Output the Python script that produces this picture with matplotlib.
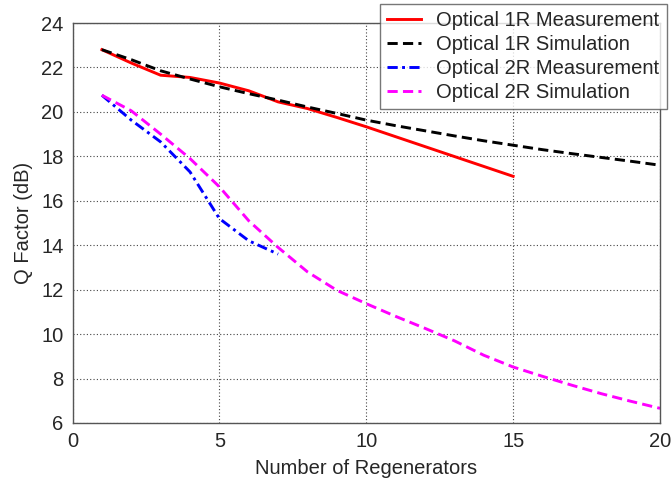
import matplotlib
matplotlib.use("Agg")
import matplotlib.pyplot as plt

plt.rcParams["font.family"] = ["Liberation Sans", "DejaVu Sans"]

# Q factor (dB) versus number of cascaded regenerators
meas_1r_x = [1, 2, 3, 4, 5, 6, 7, 8, 9, 10, 15]
meas_1r_q = [22.8, 22.2, 21.65, 21.55, 21.3, 20.95, 20.45, 20.15, 19.75, 19.33, 17.1]

sim_1r_x = list(range(1, 21))
sim_1r_q = [22.8, 22.35, 21.85, 21.48, 21.13, 20.82, 20.53, 20.22, 19.93, 19.63,
            19.38, 19.15, 18.92, 18.7, 18.5, 18.3, 18.12, 17.95, 17.78, 17.6]

meas_2r_x = [1, 2, 3, 4, 5, 6, 7]
meas_2r_q = [20.75, 19.63, 18.65, 17.3, 15.2, 14.2, 13.6]

sim_2r_x = list(range(1, 21))
sim_2r_q = [20.75, 20.05, 19.0, 17.9, 16.63, 15.1, 13.9, 12.8, 11.97, 11.37,
            10.8, 10.26, 9.7, 9.05, 8.52, 8.1, 7.7, 7.32, 6.98, 6.66]

fig = plt.figure(figsize=(6.71, 4.8), dpi=100)
ax = fig.add_axes([72.5 / 671, 1 - 423 / 480, (660 - 72.5) / 671, (423 - 23) / 480])

lw = 2.1
ax.plot(meas_1r_x, meas_1r_q, color="#ff0000", lw=lw, label="Optical 1R Measurement")
ax.plot(sim_1r_x, sim_1r_q, color="black", lw=lw, ls=(0, (3.5, 1.8)),
        label="Optical 1R Simulation")
ax.plot(meas_2r_x, meas_2r_q, color="#0000ff", lw=lw, ls=(0, (3.5, 1.5, 1, 1.5)),
        label="Optical 2R Measurement")
ax.plot(sim_2r_x, sim_2r_q, color="#ff00ff", lw=lw, ls=(0, (3.5, 1.8)),
        label="Optical 2R Simulation")

ax.set_xlim(0, 20)
ax.set_ylim(6, 24)
ax.set_xticks([0, 5, 10, 15, 20])
ax.set_yticks(range(6, 25, 2))
ax.tick_params(length=0, labelsize=14.5, colors="#262626", pad=6.5)
ax.grid(True, color="#444444", ls=(0, (1, 2)), lw=0.8)
for spine in ax.spines.values():
    spine.set_color("#555555")
    spine.set_linewidth(1.0)

ax.set_xlabel("Number of Regenerators", fontsize=14.5, color="#262626", labelpad=6)
ax.set_ylabel("Q Factor (dB)", fontsize=14.5, color="#262626", labelpad=6)

leg = fig.legend(loc="upper left", bbox_to_anchor=(380 / 671, 1 - 4 / 480),
                 fontsize=14.5, frameon=True, fancybox=False, handlelength=1.7,
                 handletextpad=0.75, borderpad=0.35, labelspacing=0.25,
                 borderaxespad=0)
leg.get_frame().set_edgecolor("#555555")
leg.get_frame().set_linewidth(1.0)
for text in leg.get_texts():
    text.set_color("#262626")

fig.savefig("out.png", dpi=100)
